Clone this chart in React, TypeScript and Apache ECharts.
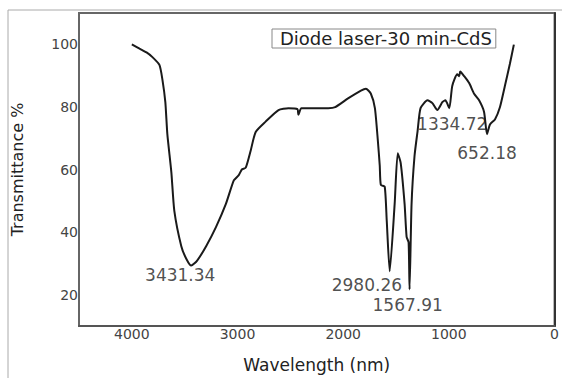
import React, { useEffect, useRef } from "react";
import * as echarts from "echarts";

const seriesName = "Diode laser-30 min-CdS";

const wavenumbers = [
  4000, 3927, 3861, 3805, 3739, 3711, 3683, 3664, 3626, 3598, 3532, 3485, 3438, 3382, 3297, 3204,
  3110, 3035, 2988, 2959, 2922, 2875, 2828, 2734, 2612, 2518, 2433, 2424, 2396, 2264, 2142, 2076,
  1954, 1832, 1785, 1738, 1700, 1672, 1654, 1644, 1607, 1588, 1560, 1513, 1484, 1456, 1419, 1400,
  1381, 1372, 1353, 1325, 1296, 1268, 1203, 1156, 1109, 1062, 1033, 996, 968, 921, 902, 893, 855,
  808, 761, 714, 667, 639, 611, 564, 517, 470, 423, 385,
];

const transmittance = [
  100, 98.6, 97.4, 95.9, 93.4, 88.8, 81.5, 71.3, 59.1, 46.8, 35.5, 31.5, 29.3, 30.9, 35.5, 41.6,
  49.0, 56.5, 58.2, 60.0, 60.6, 66.1, 72.0, 75.3, 79.0, 79.6, 79.3, 77.5, 79.6, 79.6, 79.6, 79.9,
  82.7, 85.2, 85.8, 84.2, 79.6, 69.2, 61.2, 55.1, 54.5, 43.7, 27.5, 49.0, 65.2, 62.1, 49.0, 38.5,
  36.7, 21.7, 49.0, 64.3, 72.3, 79.6, 82.1, 81.2, 79.0, 81.5, 82.1, 79.6, 86.7, 90.4, 89.8, 91.3, 89.8,
  87.6, 84.2, 82.1, 78.4, 71.3, 74.4, 76.0, 79.9, 86.7, 93.7, 99.9,
];

const annotationLabels = ["3431.34", "2980.26", "1567.91", "1334.72", "652.18"];
const annotationX = [3542, 1776, 1390, 968, 639];
const annotationY = [26.3, 23.2, 16.7, 74.4, 65.2];

const xTickStep = 1000;
const yLabelStep = 20;

const FONT = "DejaVu Sans";

export default function App() {
  const ref = useRef<HTMLDivElement>(null);

  useEffect(() => {
    if (!ref.current) return;
    const chart = echarts.init(ref.current, undefined, { renderer: "svg" });
    const lineData = wavenumbers.map((w, i) => [w, transmittance[i]]);
    const annData = annotationLabels.map((t, i) => ({ value: [annotationX[i], annotationY[i]], name: t }));

    chart.setOption({
      animation: false,
      backgroundColor: "#fff",
      grid: {
        left: 79,
        right: 3,
        top: 13,
        bottom: 39,
        show: true,
        borderColor: "#666",
        borderWidth: 2,
      },
      legend: {
        show: true,
        data: [{ name: seriesName, icon: "none" }],
        left: 272,
        top: 29,
        itemWidth: 0,
        itemHeight: 0,
        itemGap: 0,
        padding: [0, 4, 0, 3],
        borderColor: "#888",
        borderWidth: 1,
        textStyle: { fontFamily: FONT, fontSize: 18, color: "#222", lineHeight: 19 },
        selectedMode: false,
      },
      xAxis: {
        type: "value",
        min: 0,
        max: 4500,
        interval: xTickStep,
        inverse: true,
        name: "Wavelength (nm)",
        nameLocation: "middle",
        nameGap: 30,
        nameTextStyle: { fontFamily: FONT, fontSize: 17, color: "#222" },
        axisLine: { show: true, lineStyle: { color: "#555", width: 2 } },
        axisTick: { show: false },
        splitLine: { show: false },
        axisLabel: {
          fontFamily: FONT,
          fontSize: 14,
          color: "#444",
          margin: 1,
          formatter: (v: number) => (v % xTickStep === 0 ? String(v) : ""),
        },
      },
      yAxis: {
        type: "value",
        min: 10,
        max: 110,
        interval: 10,
        name: "Transmittance %",
        nameLocation: "middle",
        nameGap: 54,
        nameRotate: 90,
        nameTextStyle: { fontFamily: FONT, fontSize: 16, color: "#222" },
        axisLine: { show: true, lineStyle: { color: "#333", width: 2 } },
        axisTick: { show: false },
        splitLine: { show: false },
        axisLabel: {
          fontFamily: FONT,
          fontSize: 14,
          color: "#444",
          margin: 1,
          formatter: (v: number) => (v % yLabelStep === 0 && v >= 20 && v <= 100 ? String(v) : ""),
        },
      },
      graphic: [
        { type: "line", shape: { x1: 8, y1: 10, x2: 562, y2: 10 }, style: { stroke: "#aaa", lineWidth: 1 } },
        { type: "line", shape: { x1: 8, y1: 10, x2: 8, y2: 378 }, style: { stroke: "#aaa", lineWidth: 1 } },
      ],
      series: [
        {
          name: seriesName,
          type: "line",
          data: lineData,
          showSymbol: false,
          symbol: "none",
          smooth: 0.2,
          lineStyle: { color: "#1a1a1a", width: 2 },
          itemStyle: { color: "#1a1a1a" },
        },
        {
          name: "annotations",
          type: "scatter",
          data: annData,
          symbolSize: 0,
          silent: true,
          label: {
            show: true,
            position: "inside",
            formatter: (p: any) => p.name,
            fontFamily: FONT,
            fontSize: 17,
            color: "#222",
          },
        },
      ],
    });
    return () => chart.dispose();
  }, []);

  return (
    <div
      ref={ref}
      style={{ position: "fixed", left: 0, top: 0, width: 562, height: 378 }}
    />
  );
}
